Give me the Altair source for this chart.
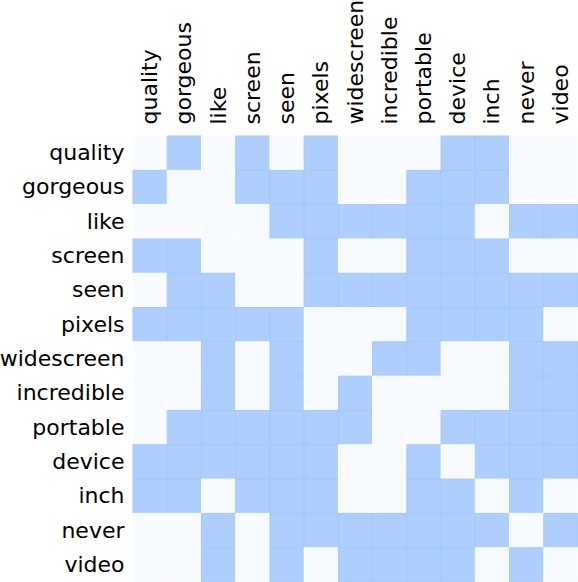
import altair as alt
import pandas as pd

words = ["quality", "gorgeous", "like", "screen", "seen", "pixels", "widescreen",
         "incredible", "portable", "device", "inch", "never", "video"]

matrix = [
    [0, 1, 0, 1, 0, 1, 0, 0, 0, 1, 1, 0, 0],
    [1, 0, 0, 1, 1, 1, 0, 0, 1, 1, 1, 0, 0],
    [0, 0, 0, 0, 1, 1, 1, 1, 1, 1, 0, 1, 1],
    [1, 1, 0, 0, 0, 1, 0, 0, 1, 1, 1, 0, 0],
    [0, 1, 1, 0, 0, 1, 1, 1, 1, 1, 1, 1, 1],
    [1, 1, 1, 1, 1, 0, 0, 0, 1, 1, 1, 1, 0],
    [0, 0, 1, 0, 1, 0, 0, 1, 1, 0, 0, 1, 1],
    [0, 0, 1, 0, 1, 0, 1, 0, 0, 0, 0, 1, 1],
    [0, 1, 1, 1, 1, 1, 1, 0, 0, 1, 1, 1, 1],
    [1, 1, 1, 1, 1, 1, 0, 0, 1, 0, 1, 1, 1],
    [1, 1, 0, 1, 1, 1, 0, 0, 1, 1, 0, 1, 0],
    [0, 0, 1, 0, 1, 1, 1, 1, 1, 1, 1, 0, 1],
    [0, 0, 1, 0, 1, 0, 1, 1, 1, 1, 0, 1, 0],
]

rows = []
for i, rw in enumerate(words):
    for j, cw in enumerate(words):
        rows.append({"row": rw, "col": cw, "value": matrix[i][j]})
df = pd.DataFrame(rows)

chart = alt.Chart(df).mark_rect(strokeWidth=1).encode(
    x=alt.X("col:N", sort=words, title=None,
            axis=alt.Axis(orient="top", labelAngle=-90, ticks=False, domain=False,
                          labelPadding=12, labelFontSize=22, labelFont="DejaVu Sans",
                          labelColor="#000000")),
    y=alt.Y("row:N", sort=words, title=None,
            axis=alt.Axis(ticks=False, domain=False, labelPadding=9,
                          labelFontSize=22, labelFont="DejaVu Sans",
                          labelColor="#000000")),
    fill=alt.Fill("value:O", scale=alt.Scale(domain=[0, 1], range=["#f7fbff", "#aecffd"]),
                  legend=None),
    stroke=alt.Stroke("value:O", scale=alt.Scale(domain=[0, 1], range=["#fcfdff", "#a4c8fa"]),
                      legend=None),
).properties(
    width=445, height=446,
    autosize=alt.AutoSizeParams(type="none"),
    padding={"left": 133, "top": 136, "right": 0, "bottom": 0},
).configure_view(stroke=None).configure_scale(bandPaddingInner=0, bandPaddingOuter=0)

chart.save("out.html", embed_options={"renderer": "svg", "actions": False})
